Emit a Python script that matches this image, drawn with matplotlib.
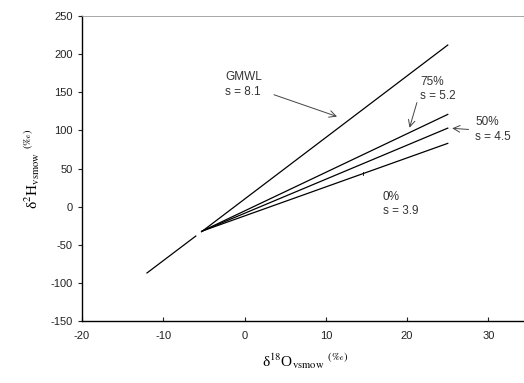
import matplotlib
matplotlib.use("Agg")
import matplotlib.pyplot as plt

# evaporation lines fanning out from the initial water composition
x_start = -5.2
y_start = -32
x_end = 25
line_labels = ["75%", "50%", "0%"]
line_slopes = ["5.2", "4.5", "3.9"]
line_y_end = [121, 103, 83]

# global meteoric water line (small break near the start of the fan)
gmwl_x = [-12, -6.0, -5.3, 25]
gmwl_y = [-87, -38.6, -33, 212]

xticks = [-20, -10, 0, 10, 20, 30]
yticks = [-150, -100, -50, 0, 50, 100, 150, 200, 250]

plt.rcParams['font.family'] = ['Liberation Sans', 'DejaVu Sans']
plt.rcParams['mathtext.fontset'] = 'stix'
plt.rcParams['axes.unicode_minus'] = False

fig = plt.figure(figsize=(5.24, 3.83), dpi=100)
ax = fig.add_axes([0.1565, 0.162, 0.85, 0.796])

lw = 0.9
ax.plot(gmwl_x[:2], gmwl_y[:2], color='black', lw=lw)
ax.plot(gmwl_x[2:], gmwl_y[2:], color='black', lw=lw)
for y_end in line_y_end:
    ax.plot([x_start, x_end], [y_start, y_end], color='black', lw=lw)

# small tick on the 0% line
ax.plot([14.6, 14.6], [41, 45], color='black', lw=0.6)

ax.set_xlim(-20, 34.8)
ax.set_ylim(-150, 250)
ax.set_xticks(xticks)
ax.set_yticks(yticks)
ax.tick_params(axis='x', direction='in', length=3, labelsize=8, pad=7, colors='#222222')
ax.tick_params(axis='y', direction='out', length=3, labelsize=8, colors='#222222')

for side in ['top', 'right']:
    ax.spines[side].set_color('#999999')
    ax.spines[side].set_linewidth(0.6)
for side in ['left', 'bottom']:
    ax.spines[side].set_linewidth(1.0)

arrow = dict(arrowstyle='->', color='#444444', lw=0.7, mutation_scale=12)
fs = 8.5
tc = '#333333'
ax.text(-2.4, 178, "GMWL\ns = 8.1", fontsize=fs, va='top', ha='left', linespacing=1.3, color=tc)
ax.annotate("", xy=(11.7, 117), xytext=(3.3, 148), arrowprops=arrow)

ax.text(21.6, 172, line_labels[0] + "\ns = " + line_slopes[0], fontsize=fs, va='top', ha='left', linespacing=1.3, color=tc)
ax.annotate("", xy=(20.2, 100), xytext=(21.3, 140), arrowprops=arrow)

ax.text(28.4, 119, line_labels[1] + "\ns = " + line_slopes[1], fontsize=fs, va='top', ha='left', linespacing=1.3, color=tc)
ax.annotate("", xy=(25.2, 103), xytext=(27.9, 101), arrowprops=arrow)

ax.text(17.0, 21, line_labels[2] + "\ns = " + line_slopes[2], fontsize=fs, va='top', ha='left', linespacing=1.3, color=tc)

serif = ['Liberation Serif', 'DejaVu Serif']
ax.set_xlabel('δ$^{18}$O$_{\\mathrm{vsmow}}$ $^{(‰)}$', fontsize=11, labelpad=8, family=serif)
ax.set_ylabel('δ$^{2}$H$_{\\mathrm{vsmow}}$ $^{(‰)}$', fontsize=11, labelpad=6, family=serif)

fig.savefig("out.png", dpi=100)
